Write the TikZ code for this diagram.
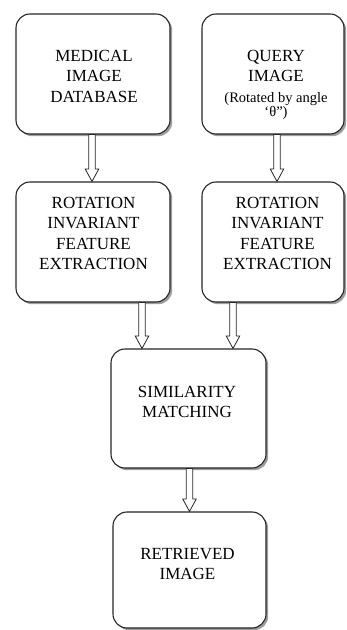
\documentclass[tikz,border=0pt]{standalone}
\usepackage{fontspec}
\setmainfont{Liberation Serif}
\usetikzlibrary{shadows,calc}
\tikzset{
  box/.style={draw=black!85, line width=1.1pt, rounded corners=14pt, fill=white,
    minimum width=#1, inner sep=0pt,
    drop shadow={shadow xshift=2.2pt, shadow yshift=-2.2pt, fill=black!55, opacity=0.7}},
  box/.default=154pt,
  lbl/.style={anchor=north, inner sep=0pt, align=center, text=black,
    font=\fontsize{17}{20.5}\selectfont},
  barrow/.style={draw=black!85, line width=0.8pt, fill=white, line join=miter}
}
\newcommand\blockarrow[2]{%
  \path[barrow] let \p1=(#1), \p2=(#2) in
    (\x1-3.3pt,\y1) -- (\x1-3.3pt,\y2+12.5pt) -- (\x1-6.8pt,\y2+12.5pt) --
    (\x1,\y2) -- (\x1+6.8pt,\y2+12.5pt) -- (\x1+3.3pt,\y2+12.5pt) --
    (\x1+3.3pt,\y1) -- cycle;}
\begin{document}
\begin{tikzpicture}[x=1pt,y=1pt]
\useasboundingbox (0,0) rectangle (346,630);
% boxes
\node[box=154pt, minimum height=120pt] (A) at (93,556) {};
\node[box=142pt, minimum height=120pt] (B) at (273,556) {};
\node[box=154pt, minimum height=120pt] (C) at (93,388) {};
\node[box=142pt, minimum height=120pt] (D) at (273,388) {};
\node[box=155pt, minimum height=119pt] (E) at (188.5,221.5) {};
\node[box=153pt, minimum height=116pt] (F) at (189.5,60) {};
% texts
\node[lbl] (At) at (94,580) {MEDICAL\\IMAGE\\DATABASE};
\node[lbl] (Bt) at (276,580) {QUERY\\IMAGE\\[0.5pt]{\fontsize{14.5}{14}\selectfont (Rotated by angle}\\[-6.5pt]{\fontsize{14.5}{14}\selectfont ‘θ”)}};
\node[lbl] (Ct) at (93.5,433) {ROTATION\\INVARIANT\\FEATURE\\EXTRACTION};
\node[lbl] (Dt) at (277.5,433) {ROTATION\\INVARIANT\\FEATURE\\EXTRACTION};
\node[lbl] (Et) at (187,244) {SIMILARITY\\MATCHING};
\node[lbl] (Ft) at (187.5,82) {RETRIEVED\\IMAGE};
% connectors
\blockarrow{[xshift=-1pt]A.south}{C.north}
\blockarrow{[xshift=4pt]B.south}{D.north}
\blockarrow{[xshift=49pt]C.south}{E.north}
\blockarrow{[xshift=-40pt]D.south}{E.north}
\blockarrow{[xshift=1pt]E.south}{F.north}
\end{tikzpicture}
\end{document}
